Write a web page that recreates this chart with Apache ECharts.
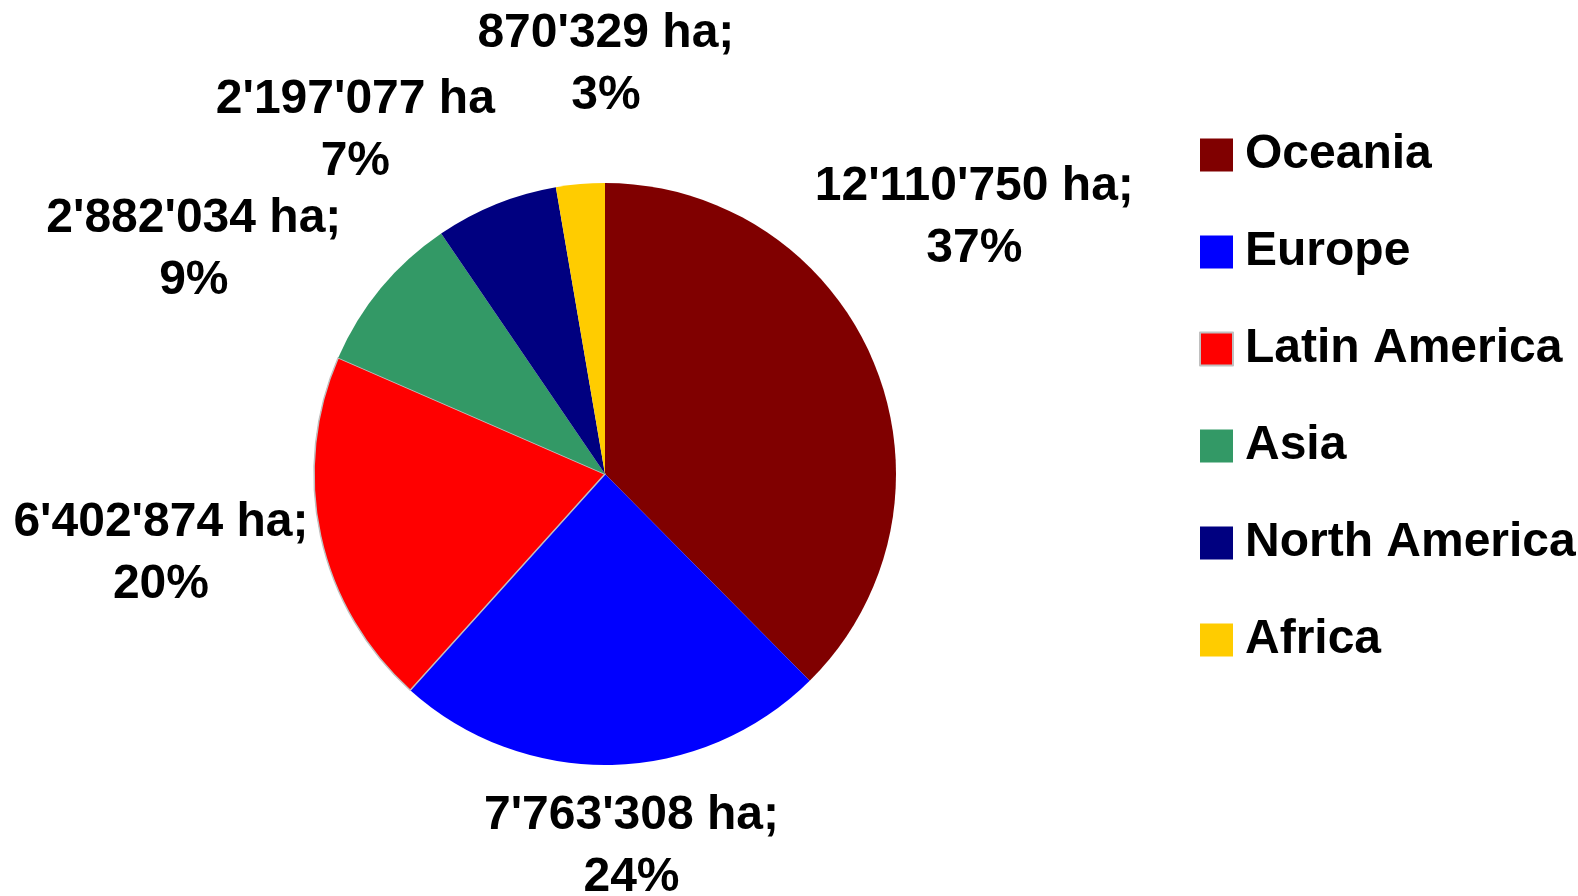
<!DOCTYPE html>
<html>
<head>
<meta charset="utf-8">
<script src="https://cdn.jsdelivr.net/npm/echarts@6/dist/echarts.min.js"></script>
<style>html,body{margin:0;padding:0;background:#fff}#c{width:1578px;height:896px}</style>
</head>
<body>
<div id="c"></div>
<script>
const regions = ['Oceania', 'Europe', 'Latin America', 'Asia', 'North America', 'Africa'];
const hectares = [12110750, 7763308, 6402874, 2882034, 2197077, 870329];
const valueLabels = ["12'110'750 ha;", "7'763'308 ha;", "6'402'874 ha;", "2'882'034 ha;", "2'197'077 ha", "870'329 ha;"];
const percentLabels = ['37%', '24%', '20%', '9%', '7%', '3%'];
const colors = ['#800000', '#0000FF', '#FF0000', '#339966', '#000080', '#FFCC00'];

// layout (pixels)
const CX = 605, CY = 474, R = 291;
// label centre offsets, in units of the pie radius
const labelOffsets = [[1.269, -0.880], [0.091, 1.280], [-1.526, 0.275], [-1.413, -0.772], [-0.858, -1.180], [0.003, -1.405]];

const FONT = 'Liberation Sans, Arial, sans-serif';
const chart = echarts.init(document.getElementById('c'));
const data = regions.map((n, i) => ({
  name: n,
  value: hectares[i],
  itemStyle: i === 2 ? { color: colors[i], borderColor: '#c0c0c0', borderWidth: 1.5 } : { color: colors[i] }
}));
chart.setOption({
  animation: false,
  backgroundColor: '#ffffff',
  legend: {
    orient: 'vertical',
    left: 1194,
    top: 126,
    itemWidth: 33,
    itemHeight: 33,
    itemGap: 49,
    icon: 'rect',
    data: regions,
    textStyle: {
      fontFamily: FONT,
      fontWeight: 'bold',
      fontSize: 48,
      color: '#000',
      padding: [0, 0, 0, 7]
    }
  },
  series: [{
    type: 'pie',
    center: [CX, CY],
    radius: [0, R],
    startAngle: 90,
    clockwise: true,
    data: data,
    label: {
      show: true,
      position: 'inside',
      formatter: p => valueLabels[p.dataIndex] + '\n' + percentLabels[p.dataIndex],
      fontFamily: FONT,
      fontWeight: 'bold',
      fontSize: 48,
      lineHeight: 62,
      color: '#000',
      align: 'center',
      overflow: 'none'
    },
    labelLine: { show: false },
    labelLayout: function (params) {
      const o = labelOffsets[params.dataIndex];
      return { x: CX + o[0] * R, y: CY + o[1] * R, align: 'center', verticalAlign: 'middle' };
    },
    emphasis: { disabled: true }
  }]
});
</script>
</body>
</html>
